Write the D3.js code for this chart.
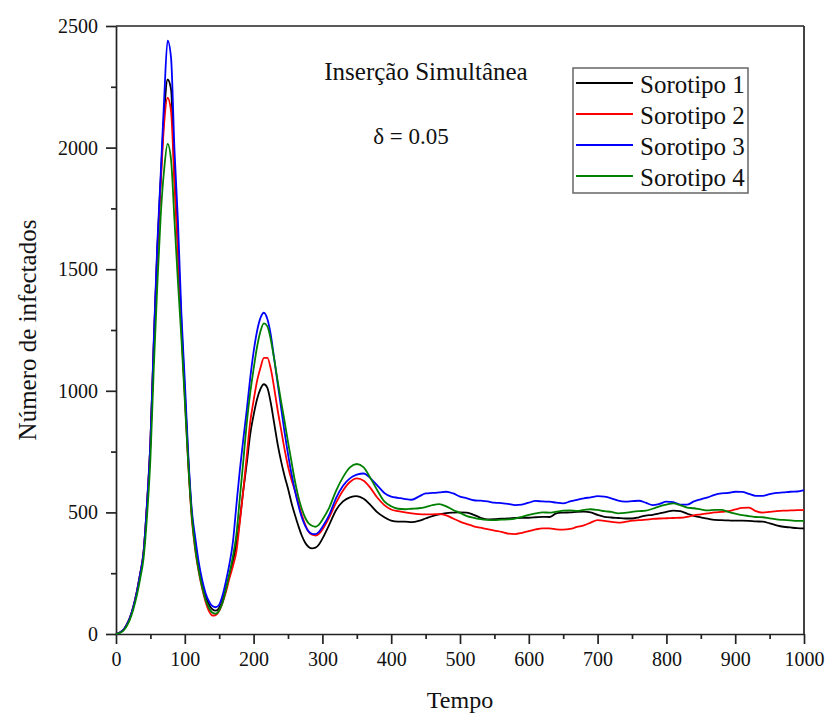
<!DOCTYPE html>
<html>
<head>
<meta charset="utf-8">
<script src="https://cdn.jsdelivr.net/npm/d3@7"></script>
<style>
  body { margin: 0; background: #fff; }
</style>
</head>
<body>
<svg id="chart" width="827" height="713"></svg>
<script>
// time grid (step 5 up to 300, then step 10)
const tempo = [
  0,5,10,15,20,25,30,35,40,45,50,55,60,65,70,75,80,85,90,95,
  100,105,110,115,120,125,130,135,140,145,150,155,160,165,170,175,180,185,190,195,
  200,205,210,215,220,225,230,235,240,245,250,255,260,265,270,275,280,285,290,295,
  300,310,320,330,340,350,360,370,380,390,400,410,420,430,440,450,460,470,480,490,
  500,510,520,530,540,550,560,570,580,590,600,610,620,630,640,650,660,670,680,690,
  700,710,720,730,740,750,760,770,780,790,800,810,820,830,840,850,860,870,880,890,
  900,910,920,930,940,950,960,970,980,990,1000
];

// values
const sorotipo1 = [
  0,5,15,35,65,110,170,245,335,530,785,1200,
  1580,1870,2140,2280,2240,1880,1600,1280,1000,720,500,375,
  285,212,157,122,102,96,108,140,190,245,300,370,
  470,590,700,820,900,965,1008,1027,1012,950,865,780,
  710,650,598,540,490,445,405,375,358,352,355,368,
  392,
  450,510,545,562,567,556,530,500,480,466,
  462,462,460,465,475,485,492,497,499,500,
  499,490,478,471,472,474,475,477,478,478,
  480,482,481,496,499,500,502,503,500,490,
  482,479,477,475,475,480,487,490,496,502,
  507,505,495,486,480,474,469,468,467,466,
  466,465,463,462,455,447,441,438,435,434
];
const sorotipo2 = [
  0,5,15,35,65,110,170,245,335,530,785,1200,
  1570,1850,2100,2205,2150,1850,1570,1250,980,700,480,350,
  260,190,135,95,76,78,95,130,175,230,280,340,
  460,590,730,870,960,1040,1095,1135,1135,1090,1010,920,
  840,760,690,635,590,540,490,450,420,408,405,412,
  430,
  480,540,590,625,640,630,600,560,530,512,
  505,500,496,493,492,492,493,488,475,462,
  452,443,437,431,425,420,413,411,416,423,
  430,434,434,430,429,432,440,447,458,468,
  465,461,458,461,466,468,470,473,475,476,
  477,478,482,488,492,496,500,502,505,512,
  519,520,505,499,502,505,507,508,509,510
];
const sorotipo3 = [
  0,5,15,35,65,110,170,245,335,535,790,1215,
  1600,1890,2200,2440,2370,1990,1700,1320,1040,740,515,400,
  300,225,170,135,115,110,120,160,220,290,380,530,
  674,800,920,1050,1160,1245,1300,1321,1295,1230,1130,1030,
  930,830,740,660,590,530,480,445,422,412,411,420,
  440,
  490,560,610,640,655,660,640,610,580,565,
  560,555,552,565,578,580,582,585,578,565,
  558,550,548,545,540,538,535,530,532,540,
  547,545,544,540,537,545,552,558,562,567,
  565,558,548,544,546,548,540,530,535,544,
  542,532,532,545,554,562,572,578,580,585,
  584,576,568,568,575,580,582,585,586,592
];
const sorotipo4 = [
  0,4,12,30,58,100,155,225,310,480,720,1100,
  1430,1720,1910,2015,1950,1700,1450,1220,960,700,490,355,
  265,195,142,108,88,84,97,130,185,250,320,410,
  560,710,866,990,1090,1180,1245,1277,1265,1210,1130,1040,
  955,875,790,710,630,565,515,478,455,445,441,450,
  470,
  520,590,645,685,699,685,640,590,545,525,
  515,513,515,517,522,530,534,525,510,498,
  485,478,472,469,468,470,471,474,482,490,
  496,500,499,503,507,508,506,510,513,510,
  505,502,496,498,502,505,507,515,525,532,
  537,530,520,517,512,508,510,510,502,495,
  489,485,481,480,475,471,469,467,465,465
];

const seriesNames = ["Sorotipo 1", "Sorotipo 2", "Sorotipo 3", "Sorotipo 4"];
const seriesValues = [sorotipo1, sorotipo2, sorotipo3, sorotipo4];
const seriesColors = ["#000000", "#ff0000", "#0000ff", "#008000"];

const xTicks = [0,100,200,300,400,500,600,700,800,900,1000];
const xMinor = [50,150,250,350,450,550,650,750,850,950];
const yTicks = [0,500,1000,1500,2000,2500];
const yMinor = [250,750,1250,1750,2250];

const FONT = "Liberation Serif";

const svg = d3.select("#chart");

const x = d3.scaleLinear().domain([0, 1000]).range([116, 804]);
const y = d3.scaleLinear().domain([0, 2500]).range([634, 26]);

const axisColor = "#222";

// frame (top and right)
svg.append("line")
  .attr("x1", x(0)).attr("x2", x(1000))
  .attr("y1", y(2500)).attr("y2", y(2500))
  .attr("stroke", axisColor).attr("stroke-width", 1.7);
svg.append("line")
  .attr("x1", x(1000)).attr("x2", x(1000))
  .attr("y1", y(0)).attr("y2", y(2500))
  .attr("stroke", axisColor).attr("stroke-width", 1.7);

// minor ticks
svg.append("g")
  .attr("transform", `translate(0,${y(0)})`)
  .call(d3.axisBottom(x).tickValues(xMinor).tickSize(5).tickFormat(""))
  .call(g => g.select(".domain").remove())
  .call(g => g.selectAll("text").remove())
  .call(g => g.selectAll("line").attr("stroke", axisColor).attr("stroke-width", 1.7));
svg.append("g")
  .attr("transform", `translate(${x(0)},0)`)
  .call(d3.axisLeft(y).tickValues(yMinor).tickSize(5).tickFormat(""))
  .call(g => g.select(".domain").remove())
  .call(g => g.selectAll("text").remove())
  .call(g => g.selectAll("line").attr("stroke", axisColor).attr("stroke-width", 1.7));

// major axes
const xAxis = svg.append("g")
  .attr("transform", `translate(0,${y(0)})`)
  .call(d3.axisBottom(x).tickValues(xTicks).tickSize(10).tickSizeOuter(0).tickPadding(8).tickFormat(d3.format("d")));
const yAxis = svg.append("g")
  .attr("transform", `translate(${x(0)},0)`)
  .call(d3.axisLeft(y).tickValues(yTicks).tickSize(10).tickSizeOuter(0).tickPadding(8).tickFormat(d3.format("d")));

[xAxis, yAxis].forEach(g => {
  g.attr("font-family", FONT).attr("font-size", 20);
  g.select(".domain").attr("stroke", axisColor).attr("stroke-width", 1.7);
  g.selectAll(".tick line").attr("stroke", axisColor).attr("stroke-width", 1.7);
  g.selectAll(".tick text")
    .attr("font-family", FONT)
    .attr("font-size", 20)
    .attr("fill", "#111");
});

// series
const line = d3.line()
  .x((d, i) => x(tempo[i]))
  .y(d => y(d))
  .curve(d3.curveMonotoneX);

seriesValues.forEach((vals, k) => {
  svg.append("path")
    .datum(vals)
    .attr("fill", "none")
    .attr("stroke", seriesColors[k])
    .attr("stroke-width", 1.8)
    .attr("stroke-linejoin", "round")
    .attr("d", line);
});

// helper for plain labels
function label(xp, yp, size, txt, anchor) {
  return svg.append("text")
    .attr("x", xp).attr("y", yp)
    .attr("text-anchor", anchor || "start")
    .attr("font-family", FONT)
    .attr("font-size", size)
    .attr("fill", "#111")
    .text(txt);
}

// axis titles
label((x(0) + x(1000)) / 2, 708, 24, "Tempo", "middle");

svg.append("text")
  .attr("transform", `translate(36,${(y(0) + y(2500)) / 2}) rotate(-90)`)
  .attr("text-anchor", "middle")
  .attr("font-family", FONT)
  .attr("font-size", 25)
  .attr("fill", "#111")
  .text("Número de infectados");

// annotations
label(426, 80, 25, "Inserção Simultânea", "middle");
label(411, 144, 23, "δ = 0.05", "middle");

// legend
const legend = svg.append("g");
legend.append("rect")
  .attr("x", 573).attr("y", 68)
  .attr("width", 175).attr("height", 125)
  .attr("fill", "#fff")
  .attr("stroke", "#666")
  .attr("stroke-width", 1.5);

seriesNames.forEach((name, k) => {
  const ly = 83 + k * 31;
  legend.append("line")
    .attr("x1", 576).attr("x2", 633)
    .attr("y1", ly).attr("y2", ly)
    .attr("stroke", seriesColors[k])
    .attr("stroke-width", 1.8);
  label(640, ly + 10, 25, name);
});
</script>
</body>
</html>
